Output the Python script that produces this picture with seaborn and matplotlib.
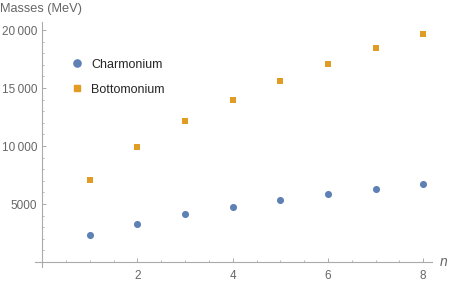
import numpy as np
import pandas as pd
import matplotlib
matplotlib.use('Agg')
import matplotlib.pyplot as plt
from matplotlib.ticker import MultipleLocator, FixedLocator, FuncFormatter
from matplotlib.lines import Line2D
import seaborn as sns

# niveis n e massas (MeV)
n_levels = [1, 2, 3, 4, 5, 6, 7, 8]
charmonium = [2330, 3300, 4110, 4740, 5320, 5835, 6290, 6720]
bottomonium = [7040, 9940, 12130, 13990, 15580, 17095, 18420, 19680]
series_names = ['Charmonium', 'Bottomonium']
x_ticks = [2, 4, 6, 8]
y_ticks = [5000, 10000, 15000, 20000]

df = pd.DataFrame({'n': n_levels * 2,
                   'mass': charmonium + bottomonium,
                   'series': [series_names[0]] * 8 + [series_names[1]] * 8})

blue = '#5E81B5'
orange = '#E19C24'
gray = '#666666'
axis_gray = '#AAAAAA'

sns.set_style('white')
plt.rcParams['font.family'] = ['Liberation Sans', 'DejaVu Sans']

fig = plt.figure(figsize=(4.55, 2.83), dpi=100)
W, H = 455, 283
ax = fig.add_axes([35 / W, (H - 266.7) / H, (431.7 - 35) / W, (266.7 - 22) / H])

sns.scatterplot(data=df[df.series == 'Charmonium'], x='n', y='mass', color=blue,
                marker='o', s=26, linewidth=0, ax=ax, legend=False)
sns.scatterplot(data=df[df.series == 'Bottomonium'], x='n', y='mass', color=orange,
                marker='s', s=14, linewidth=0, ax=ax, legend=False)

ax.set_xlim(-0.153, 8.18)
ax.set_ylim(-405, 20690)

# eixos cruzando na origem, estilo Mathematica
for side in ['top', 'right']:
    ax.spines[side].set_visible(False)
ax.spines['left'].set_position(('data', 0))
ax.spines['bottom'].set_position(('data', 0))
for side in ['left', 'bottom']:
    ax.spines[side].set_color(axis_gray)
    ax.spines[side].set_linewidth(0.8)

ax.xaxis.set_major_locator(FixedLocator(x_ticks))
ax.xaxis.set_minor_locator(MultipleLocator(0.5))
ax.yaxis.set_major_locator(FixedLocator(y_ticks))
ax.yaxis.set_minor_locator(MultipleLocator(1000))


def fmt(v, pos):
    v = int(round(v))
    if v >= 10000:
        return f'{v // 1000}\u2009{v % 1000:03d}'
    return str(v)


ax.yaxis.set_major_formatter(FuncFormatter(fmt))
ax.tick_params(which='both', bottom=True, left=True, top=False, right=False)
ax.tick_params(which='major', direction='in', length=3, width=0.7, color=axis_gray,
               labelcolor=gray, labelsize=8.5)
ax.tick_params(which='minor', direction='in', length=1.6, width=0.6, color=axis_gray)
ax.tick_params(axis='x', which='major', pad=6)
ax.tick_params(axis='y', which='major', pad=3.5)
ax.set_xlabel('')
ax.set_ylabel('')

ax.text(1.03, 0, 'n', transform=ax.get_yaxis_transform(), style='italic',
        color=gray, fontsize=10, va='center', ha='center')
fig.text(0.0, 1 - 9 / H, 'Masses (MeV)', color=gray, fontsize=9.2, va='center', ha='left')

handles = [Line2D([], [], marker='o', color=blue, linestyle='', markersize=5.2),
           Line2D([], [], marker='s', color=orange, linestyle='', markersize=3.8)]
ax.legend(handles, series_names, frameon=False, fontsize=9,
          loc='upper left', bbox_to_anchor=(71 / W, 1 - 58.5 / H),
          bbox_transform=fig.transFigure, handlelength=1.0, handletextpad=0.6,
          labelspacing=1.05, borderaxespad=0, borderpad=0)

fig.savefig('out.png', dpi=100)
